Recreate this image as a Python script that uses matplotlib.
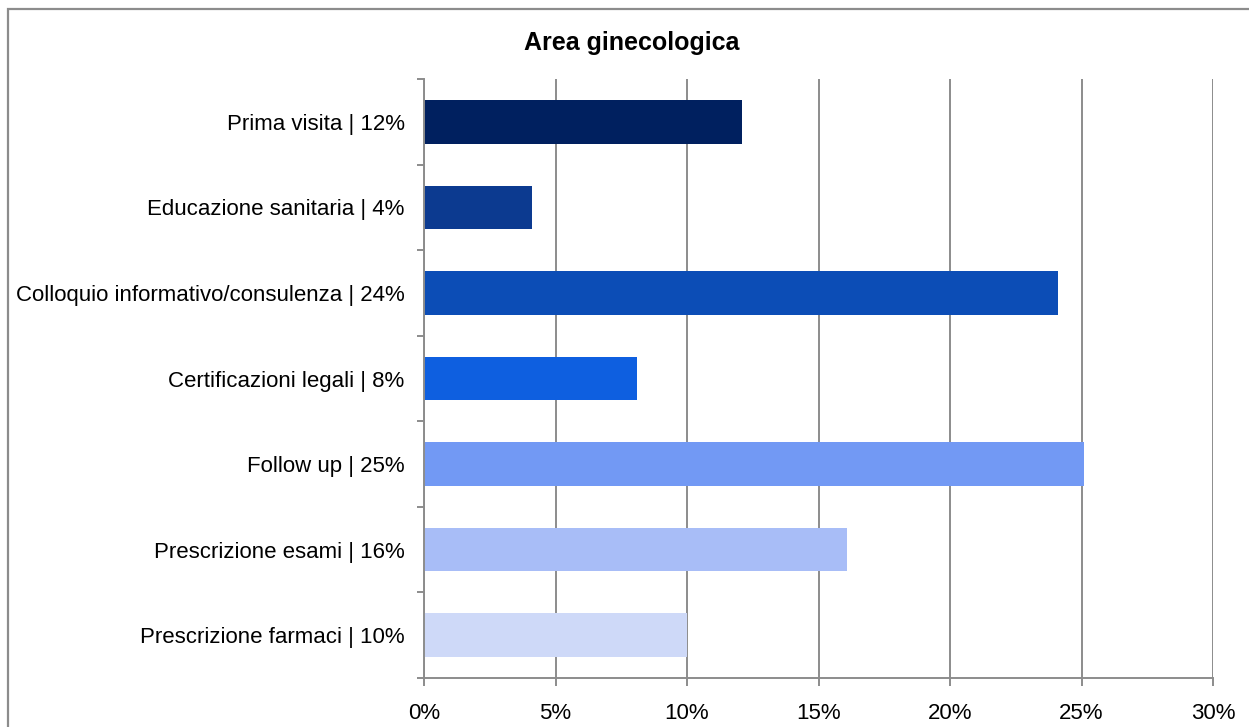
import numpy as np
import matplotlib
matplotlib.use("Agg")
import matplotlib.pyplot as plt
from matplotlib.patches import Rectangle
from matplotlib.ticker import FixedLocator

# data (percent)
categories = ["Prima visita | 12%", "Educazione sanitaria | 4%",
              "Colloquio informativo/consulenza | 24%", "Certificazioni legali | 8%",
              "Follow up | 25%", "Prescrizione esami | 16%", "Prescrizione farmaci | 10%"]
values = [12.1, 4.1, 24.1, 8.1, 25.1, 16.1, 10.0]
colors = ["#00205F", "#0C3A90", "#0C4DB6", "#0E5FE0", "#7299F4", "#A8BDF7", "#CED9F8"]
xticks = [0, 5, 10, 15, 20, 25, 30]
xticklabels = ["0%", "5%", "10%", "15%", "20%", "25%", "30%"]

plt.rcParams['font.family'] = ['Liberation Sans', 'DejaVu Sans']
grey = "#8C8C8C"

fig = plt.figure(figsize=(12.49, 7.27), dpi=100)
ax = fig.add_axes([424/1249, 1-678/727, (1213-424)/1249, (678-79)/727])

ypos = np.arange(len(categories))[::-1]
ax.barh(ypos, values, height=0.51, color=colors, zorder=3)

ax.set_xlim(0, 30)
ax.set_ylim(-0.5, len(categories) - 0.5)
ax.set_xticks(xticks)
ax.set_xticklabels(xticklabels, fontsize=16)
ax.set_yticks(ypos)
ax.set_yticklabels(categories, fontsize=16)
ax.yaxis.set_minor_locator(FixedLocator(np.arange(-0.5, len(categories), 1)))
ax.tick_params(axis='y', which='major', length=0, pad=14)
ax.tick_params(axis='y', which='minor', length=5, width=1.4, color=grey, direction='out')
ax.tick_params(axis='x', length=6, width=1.4, color=grey, pad=12)

ax.grid(axis='x', color=grey, linewidth=1.4, zorder=0)
for s in ['top', 'right']:
    ax.spines[s].set_visible(False)
for s in ['left', 'bottom']:
    ax.spines[s].set_color(grey)
    ax.spines[s].set_linewidth(1.4)
    ax.spines[s].set_zorder(4)

fig.text(632/1249, 1-43/727, "Area ginecologica", ha='center', va='center',
         fontsize=18, fontweight='bold')

# chart frame (runs off right/bottom edges like the original)
fig.patches.append(Rectangle((7.5/1249, -0.05), 1.2, 1-8.5/727+0.05,
                             transform=fig.transFigure, fill=False,
                             edgecolor=grey, linewidth=1.6))

fig.savefig("out.png", dpi=100, facecolor="white")
